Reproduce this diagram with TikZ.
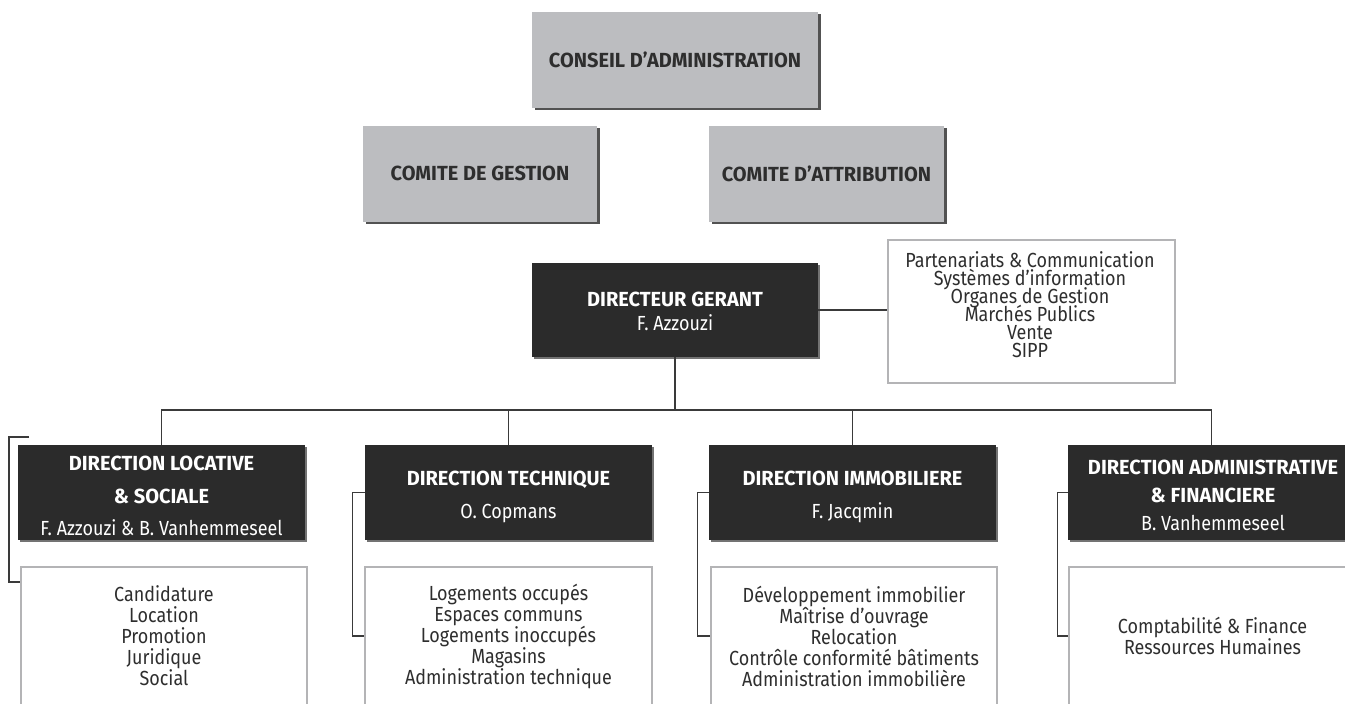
\documentclass[tikz,border=0pt]{standalone}
\usepackage{fontspec}
\setmainfont{Fira Sans}[FakeStretch=0.88, BoldFeatures={FakeStretch=0.98}]
\usetikzlibrary{shadows}
\definecolor{boardgray}{HTML}{BCBDC0}
\definecolor{dirblack}{HTML}{2B2B2B}
\definecolor{ink}{HTML}{2E2E2E}
\definecolor{wire}{HTML}{3A3A3A}
\definecolor{frame}{HTML}{B4B4B6}
\newcommand\tightlines{\lineskiplimit=-30pt\relax}
\begin{document}
\begin{tikzpicture}[x=1pt,y=-1pt,
  board/.style={fill=boardgray, text=ink, inner sep=0pt, minimum height=96pt,
    font=\fontsize{20.4}{22}\selectfont\bfseries,
    drop shadow={shadow xshift=2.5pt, shadow yshift=-2.5pt, fill=black!68, opacity=1}},
  dirbox/.style={fill=dirblack, inner sep=0pt, minimum height=95pt, minimum width=287pt,
    drop shadow={shadow xshift=2pt, shadow yshift=-2pt, fill=black!55, opacity=1}},
  dirtext/.style={text=white, align=center, inner sep=0pt},
  framed/.style={fill=white, draw=frame, line width=2.5pt,
    drop shadow={shadow xshift=1.2pt, shadow yshift=-1.2pt, fill=black!50, opacity=1}},
  unitbox/.style={framed, minimum width=286pt,
    minimum height=138pt, inner sep=0pt, text=ink, align=center,
    font=\fontsize{20.4}{21}\selectfont\tightlines},
  wire/.style={draw=wire, line width=1.3pt}
]
\clip (0,0) rectangle (1345,704);
\fill[white] (0,0) rectangle (1345,704);

% governing bodies
\node[board, minimum width=286pt] (board) at (675,59.5) {CONSEIL D’ADMINISTRATION};
\node[board, minimum width=234pt] (gestion) at (480,173.5) {COMITE DE GESTION};
\node[board, minimum width=235pt] (attrib) at (826.5,173.5) {COMITE D’ATTRIBUTION};

% managing director and staff services
\node[dirbox, minimum width=286pt, minimum height=94pt] (dg) at (675,310) {};
\node[dirtext, font=\fontsize{20.4}{24}\selectfont] (dgt) at (675,311) {\textbf{DIRECTEUR GERANT}\\F. Azzouzi};
\node[framed, minimum width=287pt, minimum height=143pt] (staff) at (1031.5,311.5) {};
\node[text=ink, align=center, inner sep=0pt, font=\fontsize{20.4}{18}\selectfont\tightlines] (stafft) at (1030,305)
  {Partenariats \& Communication\\Systèmes d’information\\Organes de Gestion\\Marchés Publics\\Vente\\SIPP};

% directorates
\node[dirbox] (dl) at (161.5,492.5) {};
\node[dirbox] (dt) at (508.5,492.5) {};
\node[dirbox] (di) at (852.5,492.5) {};
\node[dirbox] (da) at (1211.5,492.5) {};
\node[dirtext, font=\fontsize{20.4}{32.5}\selectfont] (dlt) at (161.5,496)
  {\textbf{DIRECTION LOCATIVE}\\\textbf{\& SOCIALE}\\F. Azzouzi \& B. Vanhemmeseel};
\node[dirtext, font=\fontsize{20.4}{33}\selectfont] (dtt) at (508.5,497)
  {\textbf{DIRECTION TECHNIQUE}\\O. Copmans};
\node[dirtext, font=\fontsize{20.4}{33}\selectfont] (dit) at (852.5,497)
  {\textbf{DIRECTION IMMOBILIERE}\\F. Jacqmin};
\node[dirtext, font=\fontsize{20.4}{28}\selectfont] (dat) at (1213,495)
  {\textbf{DIRECTION ADMINISTRATIVE}\\\textbf{\& FINANCIERE}\\B. Vanhemmeseel};

% services of each directorate
\node[unitbox] (ul) at (164,636) {Candidature\\Location\\Promotion\\Juridique\\Social};
\node[unitbox, minimum width=287pt] (ut) at (508.5,636) {Logements occupés\\Espaces communs\\Logements inoccupés\\Magasins\\Administration technique};
\node[unitbox] (ui) at (854,636) {Développement immobilier\\Maîtrise d’ouvrage\\Relocation\\Contrôle conformité bâtiments\\Administration immobilière};
\node[unitbox, minimum width=287pt] (ua) at (1212.5,636) {Comptabilité \& Finance\\Ressources Humaines};

% hierarchy connectors
\coordinate (bus) at (0,410);
\draw[wire] (dg.south) -- (dg.south |- bus);
\draw[wire] (dl.north) -- (dl.north |- bus) -| (da.north);
\draw[wire] (dt.north) -- (dt.north |- bus);
\draw[wire] (di.north) -- (di.north |- bus);
\draw[wire] (dg.east) -- (dg.east -| staff.west);

% brackets linking each directorate to its services
\coordinate (ltop) at (29,437);
\coordinate (lbot) at (9,582);
\draw[wire, line width=1.1pt] (ltop) -- (lbot |- ltop) -- (lbot) -- (lbot -| ul.west);
\draw[wire, line width=1.1pt] (dt.west) -- ++(-12,0) |- (ut.west);
\draw[wire, line width=1.1pt] (di.west) -- ++(-11,0) |- (ui.west);
\draw[wire, line width=1.1pt] (da.west) -- ++(-10,0) |- (ua.west);
\end{tikzpicture}
\end{document}
